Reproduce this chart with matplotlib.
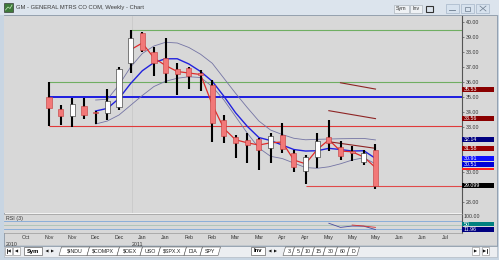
import numpy as np
import matplotlib.pyplot as plt
from matplotlib.patches import Rectangle, Polygon
from matplotlib.transforms import blended_transform_factory

plt.rcParams['font.family'] = ['Liberation Sans', 'DejaVu Sans']

# weekly candles, week 0 = week of Nov 14 2010
weeks = np.arange(29)
opens = [34.98, 34.18, 33.76, 34.42, 34.00, 33.91, 34.36, 37.29, 39.24, 37.98,
         37.62, 36.84, 36.91, 36.62, 35.80, 33.47, 32.36, 32.13, 32.18, 31.58,
         32.47, 31.29, 30.09, 30.98, 32.36, 31.69, 31.38, 30.67, 31.47]
highs = [36.02, 34.47, 34.91, 34.91, 34.05, 35.51, 36.98, 39.47, 39.36, 38.31,
         38.91, 37.24, 37.02, 36.80, 36.13, 33.80, 32.47, 32.58, 32.24, 32.58,
         33.24, 31.47, 31.13, 32.62, 33.47, 32.07, 31.76, 31.47, 31.84]
lows = [33.07, 33.13, 33.02, 33.51, 33.20, 33.47, 34.13, 36.62, 38.00, 36.40,
        35.96, 35.13, 35.51, 35.42, 32.02, 31.96, 30.91, 30.58, 30.13, 30.62,
        31.24, 30.02, 29.20, 30.24, 31.42, 30.80, 30.76, 30.47, 28.84]
closes = [34.24, 33.76, 34.53, 33.80, 33.96, 34.76, 36.84, 38.91, 38.13, 37.24,
          36.58, 36.51, 36.40, 36.47, 33.24, 32.40, 31.91, 31.80, 31.47, 32.40,
          31.51, 30.31, 30.98, 32.07, 31.91, 31.07, 31.30, 31.24, 29.10]

# red line (from week 7)
red_weeks = np.arange(7, 29)
red_vals = [38.15, 38.60, 37.60, 37.10, 36.70, 36.60, 36.50, 34.50, 32.90, 32.15,
            31.95, 31.80, 31.95, 32.00, 30.80, 30.55, 31.50, 32.15, 31.40, 31.35,
            31.00, 30.30]

# moving average + bands (from week 4)
ma_weeks = np.arange(4, 29)
ma_vals = [34.07, 34.24, 34.90, 35.90, 36.75, 37.30, 37.55, 37.55, 37.20, 36.70,
           36.05, 35.05, 33.95, 33.05, 32.30, 32.10, 31.80, 31.50, 31.40, 31.42,
           31.58, 31.50, 31.40, 31.42, 30.91]
upper_vals = [34.80, 34.85, 35.80, 37.00, 37.90, 38.40, 38.65, 38.60, 38.30, 37.85,
              37.25, 36.25, 35.25, 34.30, 33.40, 32.80, 32.50, 32.25, 32.15, 32.18,
              32.20, 32.22, 32.23, 32.24, 32.14]
lower_vals = [33.20, 33.40, 33.80, 34.45, 35.10, 35.70, 36.05, 36.25, 36.35, 36.30,
              35.70, 34.80, 33.70, 32.60, 31.60, 31.05, 30.90, 30.60, 30.30, 30.25,
              30.35, 30.55, 30.80, 30.95, 30.55]

# sloping dark red lines
trend_weeks = [[25, 28], [24, 28], [24, 28]]
trend_vals = [[35.95, 35.53], [34.09, 33.56], [32.02, 31.58]]

# horizontal levels: (price, start week, colour, width)
levels = [(39.45, 7, '#6fae62', 0.8), (36.0, 0, '#6fae62', 0.8),
          (35.0, 0, '#1c1ce0', 1.4), (33.07, 0, '#e03a3a', 0.8),
          (29.099, 22, '#e04a4a', 0.8)]

# right side value boxes
box_vals = [35.53, 33.56, 32.14, 31.58, 30.91, 30.51, 29.099]
box_text = ['35.53', '33.56', '32.14', '31.58', '30.91', '30.51', '29.099']
box_cols = ['#8a0000', '#8a0000', '#000080', '#9a0000', '#1010ff', '#0000d8', '#000000']
price_ticks = [40, 39, 38, 37, 36, 35, 34, 33, 30, 28]

# RSI(3)
rsi_weeks = [24, 25, 26, 27, 28]
rsi_vals = [55, 27, 36, 35, 11.96]
sig_weeks = [26, 27, 28]
sig_vals = [43, 36, 27]
rsi_levels = [72, 43, 14]
rsi_level_cols = ['#7fa8d8', '#a9c2b4', '#7fa8d8']

tick_weeks = np.arange(-2, 35, 2)
month_labels = ['Oct', 'Nov', 'Nov', 'Dec', 'Dec', 'Jan', 'Jan', 'Feb', 'Feb', 'Mar',
                'Mar', 'Apr', 'Apr', 'May', 'May', 'May', 'Jun', 'Jun', 'Jul']

W, H = 499, 260
GRAY = '#d8d8d8'
fig = plt.figure(figsize=(W / 100, H / 100), dpi=100)
bg = fig.add_axes([0, 0, 1, 1])
bg.set_xlim(0, W)
bg.set_ylim(H, 0)
bg.axis('off')


def px_axes(x0, y0, x1, y1):
    return fig.add_axes([x0 / W, 1 - y1 / H, (x1 - x0) / W, (y1 - y0) / H])


def rect(x, y, w, h, fc, ec='none', lw=0.5, z=1):
    bg.add_patch(Rectangle((x, y), w, h, fc=fc, ec=ec, lw=lw, zorder=z))


def tri(xc, yc, s, right, z=5):
    d = s if right else -s
    bg.add_patch(Polygon([(xc - d, yc - s), (xc - d, yc + s), (xc + d, yc)],
                         closed=True, fc='#111', ec='none', zorder=z))


# window chrome
rect(0, 0, W, H, '#c8d5e2')
rect(0, 0, W, 15, '#dce4ed')
rect(4, 15, 493, 231, GRAY)
rect(4, 15, 493, 231, 'none', ec='#8a98a8', lw=0.6, z=3)
rect(4, 3, 9, 9, '#3f7a3a', ec='#222', lw=0.4)
bg.plot([5.5, 8, 10, 12], [10, 7, 8.5, 5], color='#c8f0c0', lw=0.5)
bg.text(16, 8, 'GM - GENERAL MTRS CO COM, Weekly - Chart', fontsize=4.2,
        color='#3a3a3a', va='center')
for x0, x1, t in [(394, 409, 'Sym'), (410, 422, 'Inv')]:
    rect(x0, 4.5, x1 - x0, 8.5, '#eef1f4', ec='#a0a8b0', lw=0.4)
    bg.text((x0 + x1) / 2, 8.8, t, fontsize=3.8, ha='center', va='center', color='#333')
rect(426, 6, 7, 6, 'none', ec='#333', lw=0.8)
for x0 in [446, 461, 476]:
    rect(x0, 4, 13, 8.5, '#d7e2ee', ec='#9aabbf', lw=0.4)
bg.plot([449.5, 455.5], [9.5, 9.5], color='#6a7a8c', lw=0.6)
rect(465, 6.5, 5, 4, 'none', ec='#6a7a8c', lw=0.5, z=3)
bg.plot([480, 486], [6, 11], color='#6a7a8c', lw=0.5)
bg.plot([480, 486], [11, 6], color='#6a7a8c', lw=0.5)
bg.text(6, 20, 'Price', fontsize=4.2, color='#333', va='center', zorder=6)
rect(4, 212.5, 458, 1.3, '#f2f2f2', z=2)

# price panel
ax = px_axes(4, 16, 462, 213)
ax.set_xlim(-3.86, 35.42)
ax.set_ylim(27.27, 40.4)
ax.set_facecolor(GRAY)
for s in ['top', 'left', 'bottom']:
    ax.spines[s].set_visible(False)
ax.spines['right'].set_color('#555555')
ax.spines['right'].set_linewidth(0.8)
ax.set_xticks([])
ax.yaxis.tick_right()
ax.set_yticks(price_ticks, ['%.2f' % p for p in price_ticks])
ax.tick_params(axis='y', length=1.5, width=0.5, pad=1, labelsize=3.8,
               labelcolor='#333333', color='#555555')
ax.axvline(7.1, color='#c6c6c6', lw=0.5, zorder=0)

for p, w0, col, lw in levels:
    ax.plot([w0, 35.42], [p, p], color=col, lw=lw, zorder=1, solid_capstyle='butt')

ax.plot(ma_weeks, upper_vals, color='#7474a4', lw=0.6, zorder=2)
ax.plot(ma_weeks, lower_vals, color='#7474a4', lw=0.6, zorder=2)
ax.plot(ma_weeks, ma_vals, color='#2222dd', lw=1.0, zorder=2)
ax.plot(red_weeks, red_vals, color='#e02a2a', lw=0.9, zorder=2)
for tw, tv in zip(trend_weeks, trend_vals):
    ax.plot(tw, tv, color='#8e2424', lw=0.8, zorder=2)

o = np.array(opens)
c = np.array(closes)
up = c >= o
ax.vlines(weeks, lows, highs, color='black', lw=1.5, zorder=4)
ax.bar(weeks[up], (c - o)[up], bottom=o[up], width=0.44, color='white',
       edgecolor='#222222', lw=0.4, zorder=5)
ax.bar(weeks[~up], (o - c)[~up], bottom=c[~up], width=0.44, color='#f27878',
       edgecolor='#c23a3a', lw=0.4, zorder=5)

tr = blended_transform_factory(ax.transAxes, ax.transData)
bw = 32 / 458
ax.add_patch(Rectangle((1.0, 30.13), bw, 0.14, transform=tr, fc='#ff2020',
                       ec='none', clip_on=False, zorder=6))
for v, t, col in zip(box_vals, box_text, box_cols):
    ax.add_patch(Rectangle((1.0, v - 0.17), bw, 0.34, transform=tr, fc=col,
                           ec='none', clip_on=False, zorder=6))
    ax.text(1.004, v, t, transform=tr, fontsize=3.8, color='white', va='center',
            ha='left', zorder=7, clip_on=False)

# RSI panel
axr = px_axes(4, 214, 462, 233)
axr.set_xlim(ax.get_xlim())
axr.set_ylim(-11.6, 118.5)
axr.set_facecolor(GRAY)
for s in ['top', 'left', 'bottom']:
    axr.spines[s].set_color('#9a9a9a')
    axr.spines[s].set_linewidth(0.5)
axr.spines['left'].set_visible(False)
axr.spines['right'].set_color('#555555')
axr.spines['right'].set_linewidth(0.8)
for lvl, col in zip(rsi_levels, rsi_level_cols):
    axr.axhline(lvl, color=col, lw=0.6)
axr.plot(rsi_weeks, rsi_vals, color='#4a4a9c', lw=0.6)
axr.plot(sig_weeks, sig_vals, color='#d83030', lw=0.6)
axr.set_yticks([])
axr.set_xticks(tick_weeks, month_labels)
axr.tick_params(axis='x', length=0, pad=1.2, labelsize=3.8, labelcolor='#333333')
axr.text(0.005, 0.88, 'RSI (3)', transform=axr.transAxes, fontsize=3.8,
         color='#333', va='top')
trx = blended_transform_factory(axr.transData, axr.transAxes)
axr.text(-3.7, -0.6, '2010', transform=trx, fontsize=3.8, color='#333', va='center')
axr.text(7.1, -0.6, '2011', transform=trx, fontsize=3.8, color='#333', va='center')
trr = blended_transform_factory(axr.transAxes, axr.transData)
axr.text(1.004, 100, '100.00', transform=trr, fontsize=3.8, color='#333',
         va='center', clip_on=False)
for v, t, col in [(50, '50', '#008080'), (11.96, '11.96', '#000080')]:
    axr.add_patch(Rectangle((1.0, v - 17), bw, 34, transform=trr, fc=col,
                            ec='none', clip_on=False, zorder=6))
    axr.text(1.004, v, t, transform=trr, fontsize=3.8, color='white', va='center',
             zorder=7, clip_on=False)

# bottom tab bar
rect(4, 245, 493, 12, '#eceef1', ec='#a8b2bc', lw=0.4, z=2)
for x0 in [5, 13, 472, 482]:
    rect(x0, 247, 7, 7.5, 'white', ec='#8a8a8a', lw=0.4, z=3)
# first / prev / next / last buttons
bg.plot([7, 7], [249, 253], color='#111', lw=0.6, zorder=5)
tri(9.2, 251, 1.6, False)
tri(16.5, 251, 1.6, False)
tri(475.5, 251, 1.6, True)
tri(484.5, 251, 1.6, True)
bg.plot([487, 487], [249, 253], color='#111', lw=0.6, zorder=5)
rect(24, 246.5, 18, 8.5, 'white', ec='#666', lw=0.5, z=3)
bg.text(33, 251, 'Sym', fontsize=4.2, ha='center', va='center', weight='bold', zorder=4)
rect(251, 246.5, 14, 8.5, 'white', ec='#666', lw=0.5, z=3)
bg.text(258, 251, 'Inv', fontsize=4.2, ha='center', va='center', weight='bold', zorder=4)
for xa in [47, 270]:
    tri(xa, 251, 1.5, False)
    tri(xa + 5.5, 251, 1.5, True)


def tabs(x, names, widths):
    for n, w in zip(names, widths):
        bg.add_patch(Polygon([(x, 255.5), (x + 2.5, 247), (x + w + 2.5, 247),
                              (x + w, 255.5)], closed=True, fc='white',
                             ec='#555', lw=0.4, zorder=3))
        bg.text(x + 1.3 + w / 2, 251.2, n, fontsize=3.8, ha='center', va='center',
                zorder=4, color='#222')
        x += w


tabs(59, ['$INDU', '$COMPX', '$OEX', 'USO', '$SPX.X', 'DIA', 'SPY'],
     [28, 30, 23, 18, 26, 16, 18])
tabs(283, ['3', '5', '10', '15', '30', '60', 'D'], [9, 9, 11, 11, 12, 12, 10])

fig.savefig('out.png', dpi=100)
